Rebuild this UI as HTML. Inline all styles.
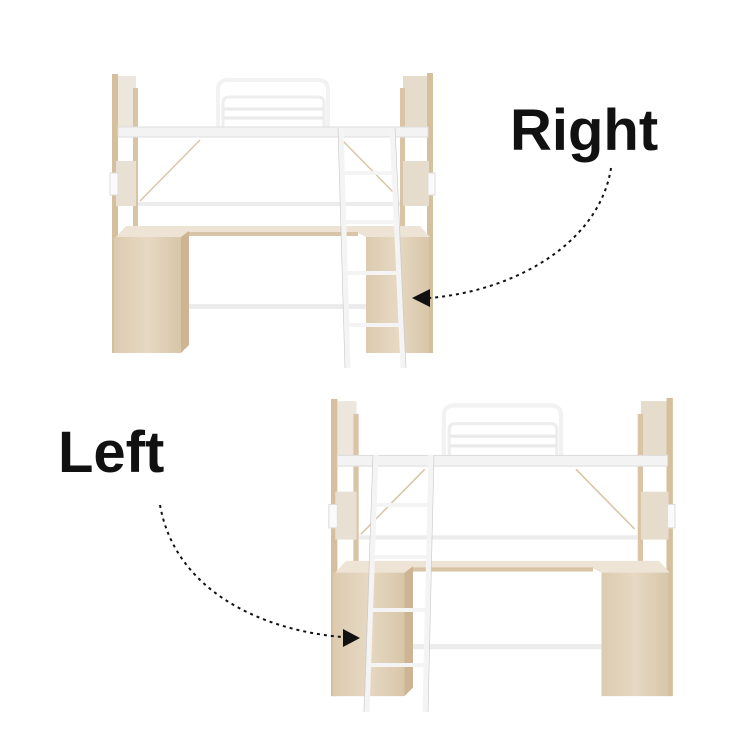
<!DOCTYPE html>
<html><head><style>html,body{margin:0;padding:0;background:#fff;width:750px;height:750px;overflow:hidden}</style></head>
<body>
<svg width="750" height="750" viewBox="0 0 750 750" xmlns="http://www.w3.org/2000/svg">
<defs>
<linearGradient id="wood" x1="0" y1="0" x2="1" y2="0">
<stop offset="0" stop-color="#dccbb0"/><stop offset="0.5" stop-color="#e6d8c2"/><stop offset="1" stop-color="#d8c6a9"/>
</linearGradient>
<g id="bed">
<!-- headboard rail -->
<path d="M218 130 V90 Q218 80 228 80 H318 Q328 80 328 90 V130" fill="none" stroke="#f2f2f2" stroke-width="4"/>
<path d="M223 130 V103 Q223 97 229 97 H318 Q324 97 324 103 V130" fill="none" stroke="#eeeeee" stroke-width="3"/>
<line x1="223" y1="109" x2="324" y2="109" stroke="#eaeaea" stroke-width="3"/>
<line x1="223" y1="118" x2="324" y2="118" stroke="#eaeaea" stroke-width="3"/>
<!-- posts and panels -->
<rect x="112" y="74" width="6" height="279" fill="#d6bf9c"/>
<rect x="118" y="76" width="18" height="52" fill="#ece6dc"/>
<rect x="133" y="88" width="5" height="147" fill="#d9c5a6"/>
<rect x="427" y="73" width="6" height="280" fill="#d6bf9c"/>
<rect x="403" y="76" width="24" height="52" fill="#e6dccb"/>
<rect x="400" y="88" width="5" height="147" fill="#d9c5a6"/>
<rect x="116" y="161" width="20" height="45" fill="#e8e0d3"/>
<rect x="403" y="161" width="26" height="45" fill="#e6dccb"/>
<rect x="110" y="173" width="8" height="22" fill="#fafafa" stroke="#ddd"/>
<rect x="428" y="173" width="7" height="22" fill="#fafafa" stroke="#ddd"/>
<!-- deck -->
<rect x="118" y="127" width="310" height="10" fill="#f3f3f3" stroke="#dedede" stroke-width="1"/>
<!-- braces -->
<line x1="200" y1="140" x2="140" y2="201" stroke="#d9c6a8" stroke-width="1.5"/>
<line x1="342" y1="140" x2="397" y2="196" stroke="#d9c6a8" stroke-width="1.5"/>
<!-- middle rail -->
<rect x="138" y="202" width="262" height="4" fill="#ececec"/>
<!-- desk -->
<path d="M116 237 L126 226 H420 L430 237 H366 L356 232 H190 L182 237 Z" fill="#ede4d6"/>
<rect x="188" y="232" width="170" height="4" fill="#d8c4a6"/>
<!-- cabinets -->
<rect x="114" y="237" width="67" height="116" fill="url(#wood)"/>
<path d="M181 237 L189 231 V345 L181 353 Z" fill="#cdb593"/>
<rect x="366" y="237" width="63" height="116" fill="url(#wood)"/>
<!-- bottom rail -->
<rect x="189" y="304" width="177" height="5" fill="#ececec"/>
</g>
</defs>
<use href="#bed"/>
<!-- ladder 1 -->
<g stroke="#f4f4f4" fill="none">
<line x1="341" y1="128" x2="348" y2="368" stroke-width="5"/>
<line x1="392" y1="128" x2="403" y2="368" stroke-width="5"/>
<g stroke-width="4"><line x1="343" y1="173" x2="393" y2="173"/><line x1="344" y1="222" x2="396" y2="222"/><line x1="346" y1="273" x2="398" y2="273"/><line x1="347" y1="325" x2="401" y2="325"/></g>
</g>
<g stroke="#ccc" stroke-width="0.7" fill="none">
<line x1="338" y1="128" x2="345" y2="368"/><line x1="395" y1="128" x2="406" y2="368"/>
</g>
<!-- bed 2 -->
<use href="#bed" transform="translate(331,399) scale(1.065) translate(-112,-74)"/>
<g stroke="#f4f4f4" fill="none">
<line x1="376" y1="455" x2="367" y2="712" stroke-width="5"/>
<line x1="431" y1="455" x2="425" y2="712" stroke-width="5"/>
<g stroke-width="4"><line x1="374" y1="505" x2="430" y2="505"/><line x1="372" y1="557" x2="429" y2="557"/><line x1="370" y1="610" x2="428" y2="610"/><line x1="368" y1="665" x2="426" y2="665"/></g>
</g>
<g stroke="#ccc" stroke-width="0.7" fill="none">
<line x1="373" y1="455" x2="364" y2="712"/><line x1="434" y1="455" x2="428" y2="712"/>
</g>
<!-- labels -->
<text x="510" y="150" font-family="Liberation Sans, sans-serif" font-size="58" font-weight="bold" fill="#111">Right</text>
<text x="58" y="472" font-family="Liberation Sans, sans-serif" font-size="58" font-weight="bold" fill="#111">Left</text>
<!-- arrows -->
<path d="M611 168 C600 240 520 290 430 298" fill="none" stroke="#111" stroke-width="2" stroke-dasharray="3,4"/>
<polygon points="412,298 430,289 430,307" fill="#111"/>
<path d="M160 505 C175 590 260 630 342 637" fill="none" stroke="#111" stroke-width="2" stroke-dasharray="3,4"/>
<polygon points="360,638 343,629 343,647" fill="#111"/>
</svg>
</body></html>
